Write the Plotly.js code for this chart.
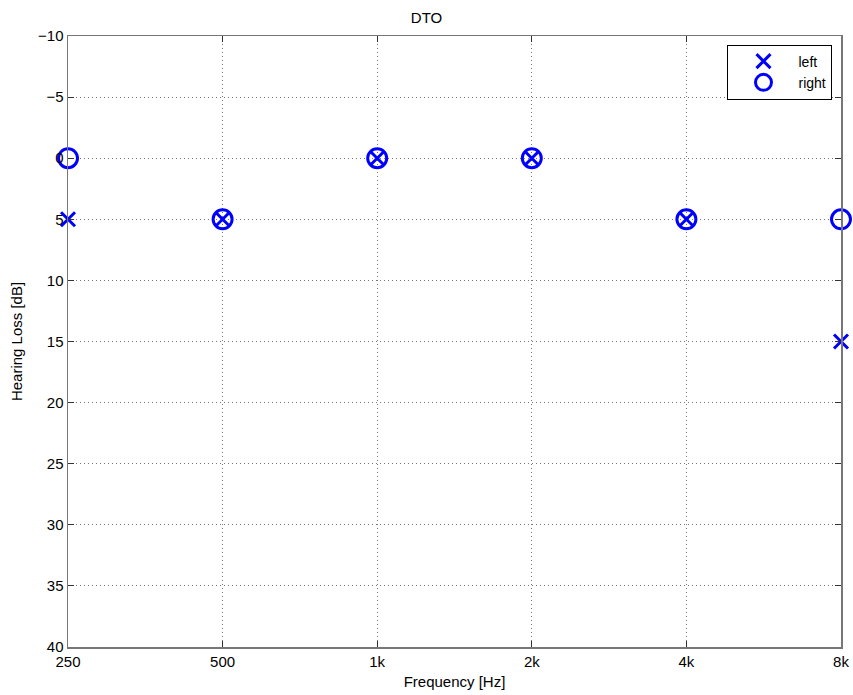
<!DOCTYPE html>
<html><head><meta charset="utf-8">
<script src="https://cdn.plot.ly/plotly-3.0.1.min.js"></script>
<style>body{margin:0;background:#fff}#plot{width:853px;height:695px}</style>
</head><body><div id="plot"></div>
<script>
const freqs = [250, 500, 1000, 2000, 4000, 8000];
const tickLabels = ['250', '500', '1k', '2k', '4k', '8k'];
const leftEar = [5, 5, 0, 0, 5, 15];
const rightEar = [0, 5, 0, 0, 5, 5];
const yTicks = [-10, -5, 0, 5, 10, 15, 20, 25, 30, 35, 40];

const blue = '#0000ff';
const eps = 1e-5;
const traces = [
  {x: freqs, y: leftEar, name: 'left', type: 'scatter', mode: 'markers', cliponaxis: false,
   marker: {symbol: 'x-thin-open', size: 14, color: blue, line: {color: blue, width: 3}}},
  {x: freqs, y: rightEar, name: 'right', type: 'scatter', mode: 'markers', cliponaxis: false,
   marker: {symbol: 'circle-open', size: 19, color: blue, line: {color: blue, width: 3}}}
];
const layout = {
  width: 853, height: 695,
  margin: {l: 68, r: 12, t: 36, b: 48},
  paper_bgcolor: '#fff', plot_bgcolor: '#fff',
  font: {family: 'Liberation Sans, Arial, sans-serif', size: 15, color: '#000'},
  title: {text: 'DTO', x: 0.5, xanchor: 'center', y: 0.975, yanchor: 'middle', font: {size: 15}},
  showlegend: true,
  legend: {x: 0.989, xanchor: 'right', y: 0.986, yanchor: 'top', bordercolor: '#000', borderwidth: 1,
    bgcolor: '#fff', font: {size: 14}, itemwidth: 60, tracegroupgap: 0},
  xaxis: {type: 'log', range: [Math.log10(250) - eps, Math.log10(8000) + eps], tickvals: freqs, ticktext: tickLabels,
    showgrid: true, gridcolor: '#777', griddash: '1px,3px', gridwidth: 1,
    ticks: 'inside', ticklen: 6, tickcolor: '#333', showline: true, linecolor: '#777', linewidth: 1.5, mirror: 'ticks',
    zeroline: false, tickfont: {size: 15},
    title: {text: 'Frequency [Hz]', standoff: 8, font: {size: 15}}},
  yaxis: {range: [40, -10], tickvals: yTicks, ticktext: yTicks.map(v => v < 0 ? '\u2212' + Math.abs(v) : String(v)),
    showgrid: true, gridcolor: '#777', griddash: '1px,3px', gridwidth: 1,
    ticks: 'inside', ticklen: 6, tickcolor: '#333', showline: true, linecolor: '#777', linewidth: 1.5, mirror: 'ticks',
    zeroline: false, tickfont: {size: 15},
    title: {text: 'Hearing Loss [dB]', standoff: 12, font: {size: 15}}}
};
Plotly.newPlot('plot', traces, layout, {displayModeBar: false, staticPlot: true});
</script></body></html>
